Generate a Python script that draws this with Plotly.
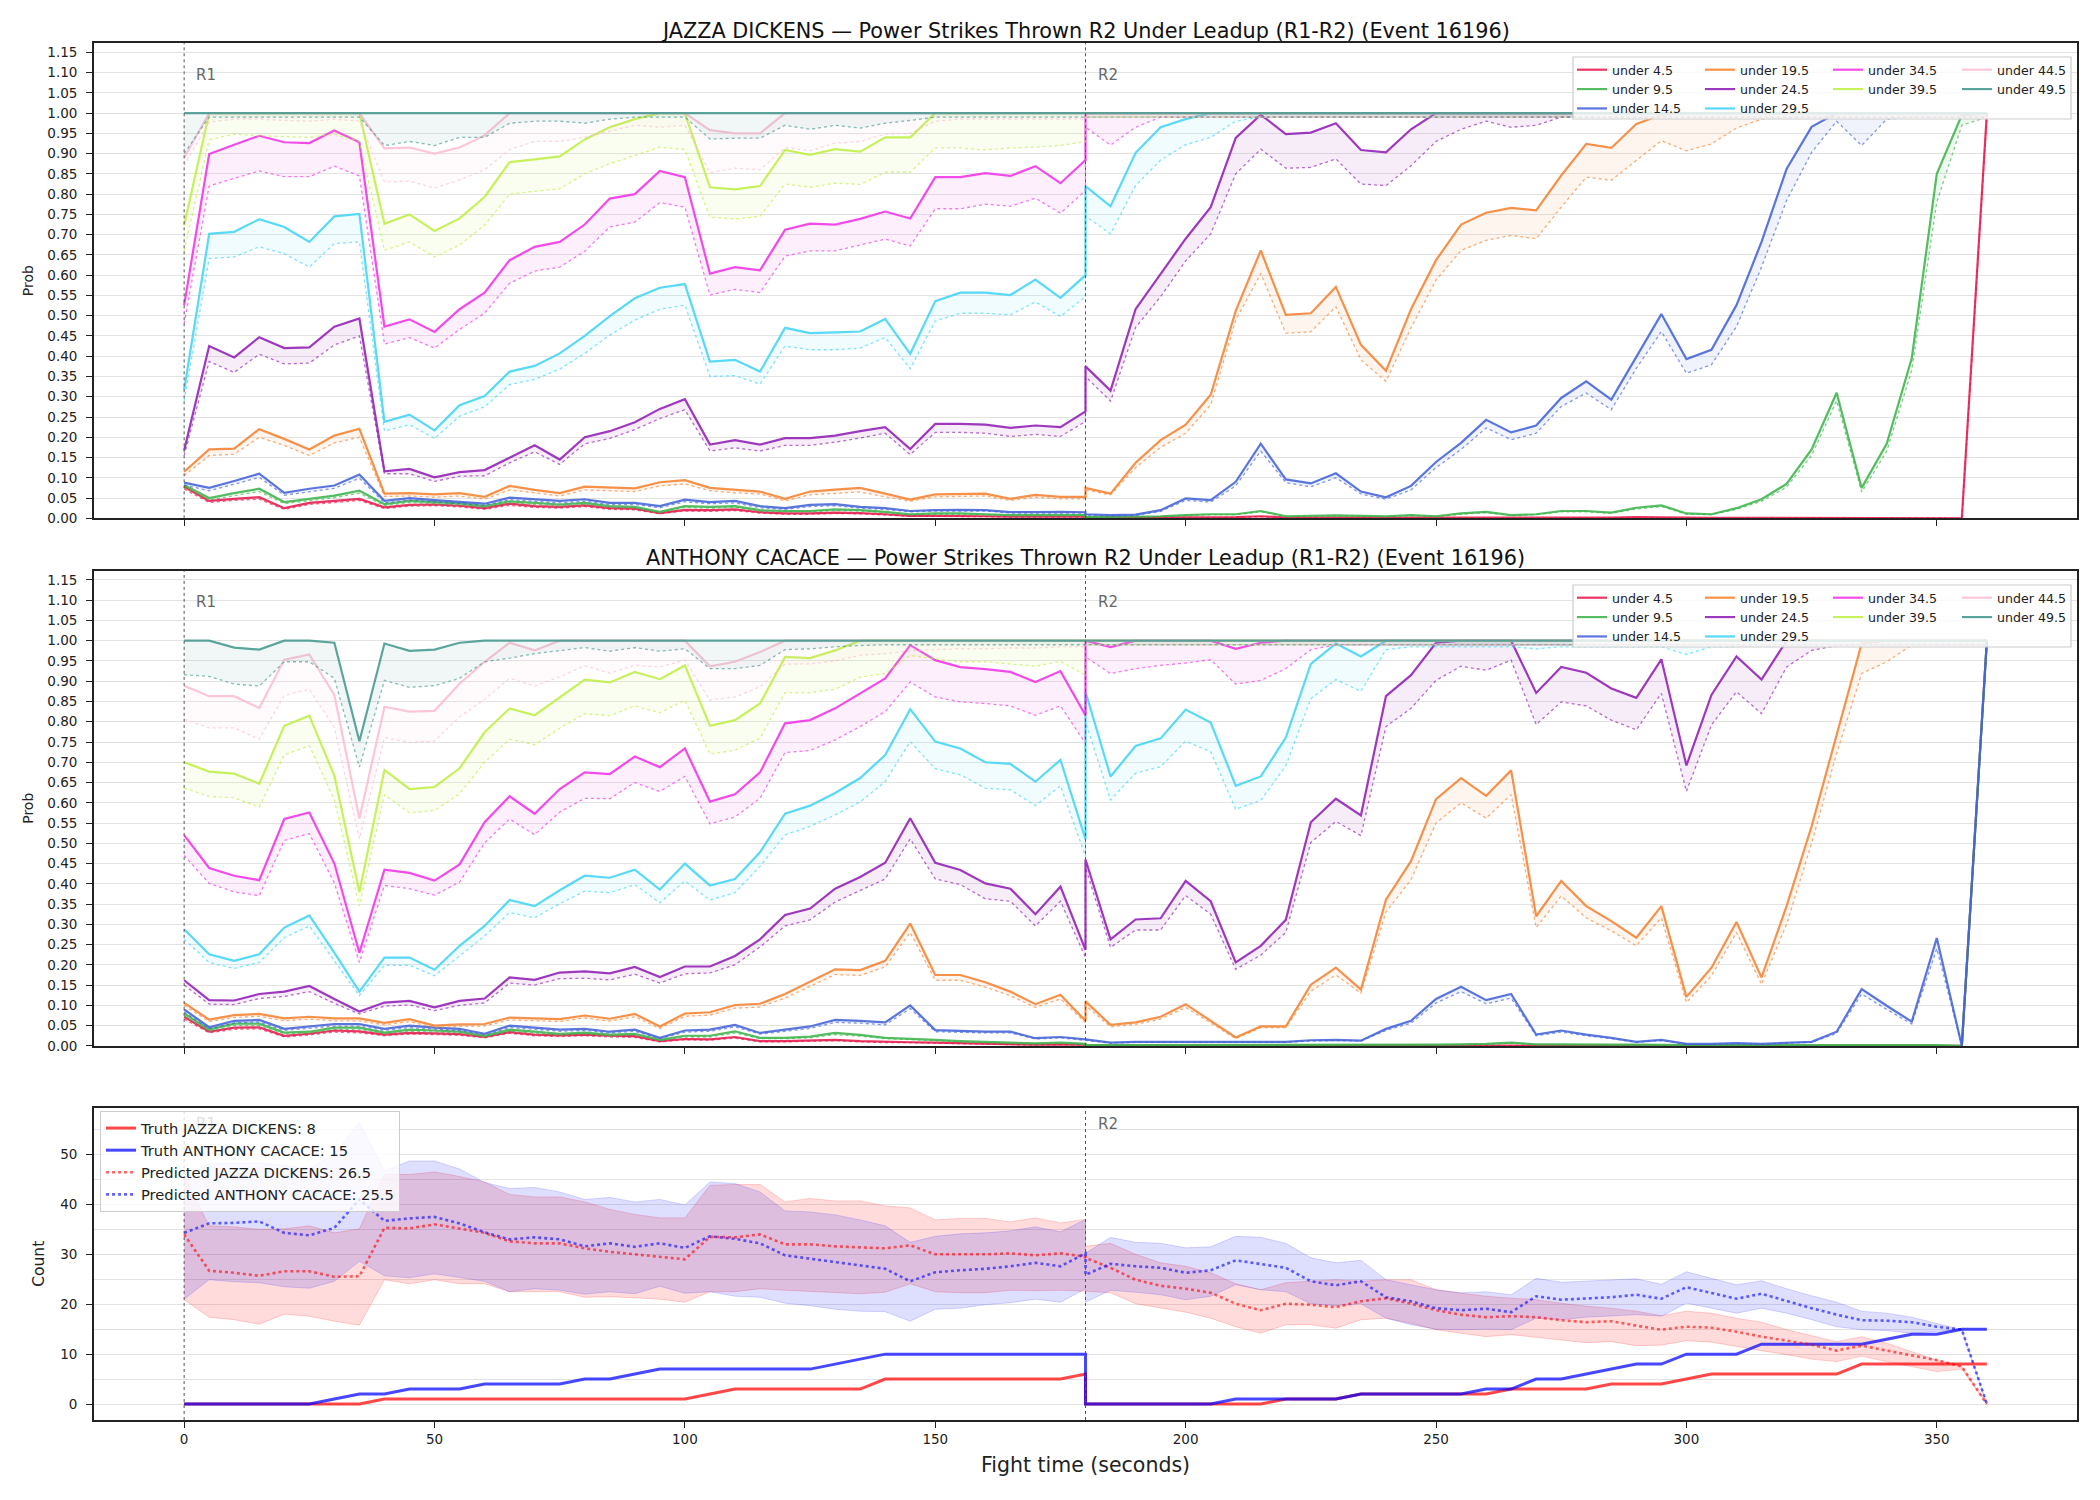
import plotly.graph_objects as go

# ---------------- time grid (R1: 0-180 s, R2: 180-360 s) ----------------
R1_T = list(range(0, 185, 5))
R2_T = list(range(180, 365, 5))
T = R1_T + R2_T

SERIES = ["under 4.5", "under 9.5", "under 14.5", "under 19.5", "under 24.5",
          "under 29.5", "under 34.5", "under 39.5", "under 44.5", "under 49.5"]
COLORS = ["#e6194b", "#3cb44b", "#4363d8", "#f58231", "#911eb4",
          "#42d4f4", "#f032e6", "#bfef45", "#fabed4", "#469990"]

# ================= JAZZA DICKENS (solid = line, _LO = dotted) =================
JD_U4_5 = [0.078, 0.043, 0.048, 0.052, 0.025, 0.038, 0.043, 0.048, 0.027, 0.033, 0.034, 0.031, 0.025, 0.036, 0.030, 0.028, 0.032, 0.025, 0.024, 0.013, 0.021, 0.020, 0.022, 0.015, 0.012, 0.012, 0.014, 0.013, 0.010, 0.006, 0.006, 0.006, 0.005, 0.004, 0.004, 0.004, 0.004] + \
          [0.002, 0.002, 0.002, 0.002, 0.002, 0.003, 0.003, 0.005, 0.002, 0.002, 0.002, 0.002, 0.002, 0.002, 0.001, 0.002, 0.002, 0.002, 0.002, 0.002, 0.002, 0.002, 0.003, 0.002, 0.001, 0.001, 0.001, 0.001, 0.001, 0.001, 0.001, 0.001, 0.001, 0.001, 0.001, 0.000, 1.000]
JD_U4_5_LO = [0.072, 0.039, 0.044, 0.047, 0.022, 0.034, 0.039, 0.044, 0.024, 0.030, 0.031, 0.028, 0.022, 0.032, 0.027, 0.025, 0.029, 0.022, 0.021, 0.011, 0.018, 0.017, 0.019, 0.013, 0.010, 0.010, 0.012, 0.011, 0.008, 0.005, 0.005, 0.005, 0.004, 0.003, 0.003, 0.003, 0.003] + \
             [0.001, 0.001, 0.001, 0.001, 0.001, 0.002, 0.002, 0.004, 0.001, 0.001, 0.001, 0.001, 0.001, 0.001, 0.001, 0.001, 0.001, 0.001, 0.001, 0.001, 0.001, 0.001, 0.002, 0.001, 0.001, 0.001, 0.001, 0.001, 0.001, 0.001, 0.001, 0.001, 0.001, 0.001, 0.001, 0.000, 0.990]
JD_U9_5 = [0.082, 0.050, 0.062, 0.073, 0.040, 0.048, 0.056, 0.068, 0.035, 0.043, 0.040, 0.037, 0.030, 0.042, 0.038, 0.034, 0.038, 0.030, 0.028, 0.016, 0.030, 0.028, 0.030, 0.020, 0.018, 0.018, 0.022, 0.020, 0.016, 0.010, 0.012, 0.012, 0.010, 0.008, 0.008, 0.008, 0.008] + \
          [0.003, 0.004, 0.004, 0.005, 0.008, 0.010, 0.010, 0.018, 0.005, 0.006, 0.007, 0.006, 0.005, 0.008, 0.005, 0.012, 0.016, 0.008, 0.010, 0.018, 0.018, 0.014, 0.026, 0.032, 0.012, 0.010, 0.025, 0.047, 0.085, 0.170, 0.310, 0.075, 0.184, 0.395, 0.850, 0.995, 1.000]
JD_U9_5_LO = [0.076, 0.045, 0.056, 0.066, 0.036, 0.043, 0.051, 0.062, 0.031, 0.039, 0.036, 0.033, 0.027, 0.038, 0.034, 0.030, 0.034, 0.027, 0.025, 0.014, 0.027, 0.025, 0.027, 0.018, 0.016, 0.016, 0.019, 0.018, 0.014, 0.009, 0.010, 0.010, 0.009, 0.007, 0.007, 0.007, 0.007] + \
             [0.003, 0.003, 0.003, 0.004, 0.007, 0.009, 0.009, 0.016, 0.004, 0.005, 0.006, 0.005, 0.004, 0.007, 0.004, 0.010, 0.014, 0.007, 0.009, 0.016, 0.016, 0.012, 0.023, 0.029, 0.010, 0.009, 0.022, 0.042, 0.077, 0.155, 0.290, 0.065, 0.165, 0.365, 0.780, 0.970, 0.990]
JD_U14_5 = [0.088, 0.075, 0.092, 0.110, 0.063, 0.073, 0.081, 0.108, 0.043, 0.050, 0.045, 0.040, 0.036, 0.051, 0.047, 0.043, 0.047, 0.038, 0.038, 0.030, 0.046, 0.040, 0.043, 0.030, 0.025, 0.033, 0.035, 0.028, 0.025, 0.018, 0.020, 0.021, 0.020, 0.015, 0.015, 0.016, 0.015] + \
           [0.010, 0.008, 0.009, 0.020, 0.049, 0.045, 0.090, 0.184, 0.096, 0.086, 0.111, 0.066, 0.052, 0.080, 0.139, 0.186, 0.243, 0.212, 0.229, 0.297, 0.338, 0.293, 0.399, 0.504, 0.393, 0.416, 0.526, 0.682, 0.862, 0.966, 1.000, 1.000, 1.000, 1.000, 1.000, 1.000, 1.000]
JD_U14_5_LO = [0.082, 0.068, 0.084, 0.101, 0.057, 0.066, 0.074, 0.099, 0.038, 0.045, 0.040, 0.036, 0.032, 0.046, 0.042, 0.038, 0.042, 0.034, 0.034, 0.026, 0.041, 0.036, 0.038, 0.026, 0.022, 0.029, 0.031, 0.025, 0.022, 0.016, 0.018, 0.018, 0.018, 0.013, 0.013, 0.014, 0.013] + \
              [0.008, 0.006, 0.007, 0.017, 0.044, 0.040, 0.080, 0.166, 0.088, 0.078, 0.100, 0.060, 0.047, 0.070, 0.125, 0.170, 0.223, 0.194, 0.210, 0.276, 0.309, 0.268, 0.370, 0.461, 0.358, 0.379, 0.473, 0.620, 0.784, 0.903, 0.980, 0.920, 0.985, 0.990, 0.990, 0.990, 0.990]
JD_U19_5 = [0.115, 0.170, 0.172, 0.220, 0.196, 0.170, 0.204, 0.221, 0.061, 0.062, 0.059, 0.062, 0.053, 0.080, 0.070, 0.062, 0.078, 0.076, 0.074, 0.089, 0.094, 0.075, 0.070, 0.066, 0.048, 0.066, 0.071, 0.075, 0.061, 0.046, 0.059, 0.060, 0.061, 0.048, 0.058, 0.053, 0.053] + \
           [0.075, 0.061, 0.137, 0.193, 0.231, 0.305, 0.512, 0.661, 0.502, 0.506, 0.571, 0.428, 0.364, 0.516, 0.637, 0.725, 0.754, 0.766, 0.760, 0.846, 0.924, 0.914, 0.973, 0.996, 1.000, 1.000, 1.000, 1.000, 1.000, 1.000, 1.000, 1.000, 1.000, 1.000, 1.000, 1.000, 1.000]
JD_U19_5_LO = [0.105, 0.155, 0.158, 0.200, 0.180, 0.155, 0.186, 0.200, 0.054, 0.055, 0.052, 0.055, 0.047, 0.070, 0.063, 0.055, 0.070, 0.068, 0.066, 0.080, 0.085, 0.068, 0.063, 0.060, 0.043, 0.058, 0.062, 0.065, 0.053, 0.042, 0.053, 0.054, 0.055, 0.044, 0.052, 0.048, 0.048] + \
              [0.070, 0.058, 0.125, 0.175, 0.210, 0.280, 0.489, 0.604, 0.457, 0.460, 0.522, 0.391, 0.338, 0.470, 0.588, 0.661, 0.686, 0.698, 0.690, 0.768, 0.842, 0.834, 0.883, 0.932, 0.907, 0.924, 0.963, 0.985, 0.990, 0.990, 0.990, 0.990, 0.990, 0.990, 0.990, 0.990, 0.990]
JD_U24_5 = [0.168, 0.425, 0.397, 0.447, 0.420, 0.422, 0.473, 0.493, 0.116, 0.122, 0.101, 0.114, 0.119, 0.149, 0.180, 0.145, 0.200, 0.215, 0.237, 0.270, 0.294, 0.182, 0.193, 0.182, 0.198, 0.198, 0.204, 0.215, 0.225, 0.171, 0.233, 0.233, 0.231, 0.223, 0.229, 0.225, 0.264] + \
           [0.375, 0.315, 0.516, 0.604, 0.690, 0.768, 0.939, 0.996, 0.948, 0.952, 0.975, 0.909, 0.903, 0.960] + [1.000] * 23
JD_U24_5_LO = [0.155, 0.387, 0.360, 0.405, 0.381, 0.383, 0.428, 0.450, 0.110, 0.110, 0.091, 0.104, 0.105, 0.137, 0.164, 0.133, 0.184, 0.197, 0.219, 0.246, 0.268, 0.166, 0.174, 0.166, 0.180, 0.180, 0.188, 0.198, 0.210, 0.157, 0.212, 0.212, 0.210, 0.202, 0.207, 0.202, 0.239] + \
              [0.350, 0.289, 0.471, 0.547, 0.635, 0.702, 0.850, 0.911, 0.864, 0.866, 0.887, 0.825, 0.821, 0.870, 0.930, 0.960, 0.980, 0.965, 0.970] + [0.990] * 18
JD_U29_5 = [0.317, 0.702, 0.707, 0.738, 0.719, 0.682, 0.745, 0.751, 0.238, 0.256, 0.217, 0.279, 0.302, 0.362, 0.376, 0.407, 0.450, 0.499, 0.543, 0.569, 0.578, 0.387, 0.391, 0.362, 0.470, 0.457, 0.459, 0.461, 0.492, 0.406, 0.536, 0.557, 0.557, 0.551, 0.589, 0.544, 0.600] + \
           [0.820, 0.770, 0.902, 0.965, 0.985] + [1.000] * 32
JD_U29_5_LO = [0.290, 0.641, 0.645, 0.670, 0.653, 0.620, 0.678, 0.682, 0.215, 0.231, 0.197, 0.252, 0.275, 0.330, 0.343, 0.368, 0.407, 0.452, 0.489, 0.516, 0.526, 0.350, 0.352, 0.331, 0.425, 0.416, 0.416, 0.420, 0.446, 0.369, 0.487, 0.506, 0.506, 0.502, 0.534, 0.498, 0.547] + \
              [0.746, 0.702, 0.821, 0.884, 0.922, 0.940, 0.980] + [0.990] * 30
JD_U34_5 = [0.526, 0.899, 0.922, 0.944, 0.928, 0.926, 0.957, 0.928, 0.473, 0.491, 0.460, 0.516, 0.557, 0.637, 0.670, 0.682, 0.725, 0.789, 0.800, 0.857, 0.842, 0.604, 0.620, 0.612, 0.712, 0.727, 0.725, 0.739, 0.757, 0.740, 0.842, 0.842, 0.852, 0.845, 0.869, 0.827, 0.884] + \
           [1.000] * 37
JD_U34_5_LO = [0.480, 0.820, 0.839, 0.857, 0.843, 0.843, 0.869, 0.845, 0.430, 0.446, 0.420, 0.466, 0.506, 0.580, 0.610, 0.620, 0.659, 0.719, 0.731, 0.779, 0.768, 0.551, 0.565, 0.557, 0.647, 0.660, 0.660, 0.674, 0.689, 0.672, 0.764, 0.764, 0.775, 0.770, 0.790, 0.753, 0.809] + \
              [0.965, 0.921, 0.965] + [0.990] * 34
JD_U39_5 = [0.723, 1.000, 1.000, 1.000, 1.000, 1.000, 1.000, 1.000, 0.727, 0.750, 0.709, 0.740, 0.793, 0.879, 0.886, 0.893, 0.935, 0.965, 0.985, 1.000, 1.000, 0.817, 0.812, 0.820, 0.909, 0.897, 0.911, 0.905, 0.940, 0.940, 1.000, 1.000, 1.000, 1.000, 1.000, 1.000, 1.000] + \
           [1.000] * 37
JD_U39_5_LO = [0.660, 0.934, 0.948, 0.944, 0.942, 0.940, 0.948, 0.930, 0.661, 0.682, 0.645, 0.674, 0.723, 0.800, 0.807, 0.813, 0.850, 0.875, 0.895, 0.916, 0.910, 0.743, 0.739, 0.745, 0.825, 0.817, 0.827, 0.824, 0.854, 0.854, 0.914, 0.914, 0.909, 0.914, 0.916, 0.920, 0.930] + \
              [0.990] * 37
JD_U44_5 = [0.890, 1.000, 1.000, 1.000, 1.000, 1.000, 1.000, 1.000, 0.913, 0.915, 0.900, 0.915, 0.945, 1.000, 1.000, 1.000, 1.000, 1.000, 1.000, 1.000, 1.000, 0.958, 0.950, 0.950, 1.000, 1.000, 1.000, 1.000, 1.000, 1.000, 1.000, 1.000, 1.000, 1.000, 1.000, 1.000, 1.000] + \
           [1.000] * 37
JD_U44_5_LO = [0.870, 0.978, 0.985, 0.985, 0.982, 0.980, 0.985, 0.980, 0.830, 0.832, 0.815, 0.835, 0.860, 0.910, 0.930, 0.930, 0.940, 0.955, 0.970, 0.965, 0.970, 0.853, 0.864, 0.860, 0.915, 0.907, 0.926, 0.930, 0.948, 0.950, 0.980, 0.985, 0.985, 0.985, 0.985, 0.985, 0.985] + \
              [0.990] * 37
JD_U49_5 = [1.000] * 74
JD_U49_5_LO = [0.900, 0.990, 0.990, 0.990, 0.990, 0.990, 0.990, 0.990, 0.920, 0.930, 0.920, 0.940, 0.940, 0.975, 0.980, 0.980, 0.975, 0.985, 0.990, 0.990, 0.990, 0.936, 0.938, 0.938, 0.970, 0.960, 0.970, 0.963, 0.975, 0.982, 0.990, 0.990, 0.990, 0.990, 0.990, 0.990, 0.990] + \
              [0.990] * 37

# ================= ANTHONY CACACE =================
AC_U4_5 = [0.072, 0.035, 0.045, 0.046, 0.025, 0.030, 0.038, 0.036, 0.028, 0.032, 0.031, 0.029, 0.022, 0.034, 0.028, 0.026, 0.028, 0.025, 0.024, 0.012, 0.017, 0.016, 0.022, 0.012, 0.012, 0.013, 0.015, 0.012, 0.010, 0.009, 0.008, 0.007, 0.005, 0.004, 0.003, 0.004, 0.003] + \
          [0.001] * 35 + [0.000, 1.000]
AC_U4_5_LO = [0.066, 0.032, 0.041, 0.042, 0.022, 0.027, 0.034, 0.032, 0.025, 0.029, 0.028, 0.026, 0.020, 0.031, 0.025, 0.023, 0.025, 0.022, 0.021, 0.010, 0.015, 0.014, 0.019, 0.010, 0.010, 0.011, 0.013, 0.010, 0.008, 0.008, 0.007, 0.006, 0.004, 0.003, 0.002, 0.003, 0.002] + \
             [0.001] * 35 + [0.000, 0.990]
AC_U9_5 = [0.080, 0.040, 0.055, 0.055, 0.033, 0.035, 0.045, 0.045, 0.033, 0.040, 0.038, 0.035, 0.025, 0.040, 0.035, 0.030, 0.033, 0.028, 0.030, 0.015, 0.025, 0.025, 0.036, 0.020, 0.020, 0.023, 0.032, 0.027, 0.020, 0.018, 0.015, 0.012, 0.010, 0.008, 0.006, 0.008, 0.005] + \
          [0.002] * 14 + [0.003, 0.004, 0.005, 0.008, 0.004, 0.004, 0.003, 0.003, 0.003] + [0.002] * 12 + [0.000, 1.000]
AC_U9_5_LO = [0.074, 0.036, 0.050, 0.050, 0.030, 0.032, 0.041, 0.041, 0.030, 0.036, 0.034, 0.032, 0.022, 0.036, 0.032, 0.027, 0.030, 0.025, 0.027, 0.013, 0.022, 0.022, 0.032, 0.018, 0.018, 0.020, 0.028, 0.024, 0.018, 0.016, 0.013, 0.010, 0.009, 0.007, 0.005, 0.007, 0.004] + \
             [0.001] * 14 + [0.002, 0.003, 0.004, 0.007, 0.003, 0.003, 0.002, 0.002, 0.002] + [0.001] * 12 + [0.000, 0.990]
AC_U14_5 = [0.090, 0.046, 0.062, 0.064, 0.042, 0.048, 0.054, 0.054, 0.042, 0.050, 0.045, 0.042, 0.030, 0.050, 0.045, 0.040, 0.042, 0.035, 0.040, 0.020, 0.038, 0.040, 0.052, 0.032, 0.040, 0.048, 0.064, 0.062, 0.058, 0.100, 0.039, 0.037, 0.035, 0.035, 0.019, 0.022, 0.016] + \
           [0.016, 0.008, 0.010, 0.010, 0.010, 0.010, 0.010, 0.010, 0.010, 0.014, 0.015, 0.013, 0.042, 0.062, 0.116, 0.146, 0.113, 0.128, 0.028, 0.038, 0.028, 0.020, 0.010, 0.015, 0.005, 0.005, 0.007, 0.005, 0.007, 0.010, 0.035, 0.140, 0.099, 0.060, 0.266, 0.000, 1.000]
AC_U14_5_LO = [0.084, 0.042, 0.057, 0.059, 0.038, 0.044, 0.049, 0.049, 0.038, 0.045, 0.041, 0.038, 0.027, 0.045, 0.041, 0.036, 0.038, 0.032, 0.036, 0.018, 0.034, 0.036, 0.047, 0.029, 0.036, 0.043, 0.058, 0.056, 0.052, 0.092, 0.035, 0.033, 0.032, 0.032, 0.017, 0.020, 0.014] + \
              [0.014, 0.007, 0.009, 0.009, 0.009, 0.009, 0.009, 0.009, 0.009, 0.012, 0.013, 0.012, 0.038, 0.056, 0.106, 0.134, 0.104, 0.118, 0.025, 0.034, 0.025, 0.018, 0.009, 0.013, 0.004, 0.004, 0.006, 0.004, 0.006, 0.009, 0.031, 0.128, 0.090, 0.054, 0.240, 0.000, 0.990]
AC_U19_5 = [0.106, 0.065, 0.076, 0.079, 0.068, 0.072, 0.068, 0.068, 0.057, 0.066, 0.050, 0.053, 0.054, 0.070, 0.068, 0.066, 0.075, 0.067, 0.079, 0.048, 0.080, 0.083, 0.101, 0.104, 0.128, 0.158, 0.189, 0.187, 0.210, 0.302, 0.175, 0.175, 0.157, 0.134, 0.103, 0.126, 0.062] + \
           [0.110, 0.052, 0.058, 0.072, 0.103, 0.062, 0.021, 0.048, 0.048, 0.151, 0.193, 0.139, 0.361, 0.456, 0.609, 0.661, 0.617, 0.680, 0.320, 0.407, 0.345, 0.308, 0.267, 0.345, 0.121, 0.193, 0.306, 0.169, 0.345, 0.542, 0.771, 0.993, 1.000, 1.000, 1.000, 1.000, 1.000]
AC_U19_5_LO = [0.100, 0.060, 0.070, 0.073, 0.062, 0.066, 0.062, 0.062, 0.052, 0.060, 0.045, 0.048, 0.049, 0.064, 0.062, 0.060, 0.069, 0.061, 0.072, 0.043, 0.073, 0.076, 0.093, 0.096, 0.118, 0.146, 0.176, 0.174, 0.195, 0.280, 0.162, 0.162, 0.145, 0.124, 0.095, 0.116, 0.057] + \
              [0.100, 0.047, 0.053, 0.066, 0.095, 0.056, 0.018, 0.045, 0.045, 0.135, 0.175, 0.130, 0.330, 0.410, 0.550, 0.600, 0.562, 0.620, 0.292, 0.370, 0.316, 0.284, 0.247, 0.316, 0.107, 0.173, 0.280, 0.152, 0.300, 0.500, 0.722, 0.919, 0.948, 0.989, 0.990, 0.990, 0.990]
AC_U24_5 = [0.162, 0.113, 0.112, 0.128, 0.134, 0.148, 0.116, 0.085, 0.107, 0.111, 0.095, 0.111, 0.117, 0.169, 0.163, 0.181, 0.184, 0.179, 0.195, 0.170, 0.196, 0.196, 0.222, 0.263, 0.323, 0.339, 0.388, 0.417, 0.452, 0.562, 0.452, 0.434, 0.401, 0.388, 0.325, 0.393, 0.237] + \
           [0.460, 0.263, 0.312, 0.315, 0.407, 0.357, 0.206, 0.247, 0.311, 0.552, 0.610, 0.569, 0.863, 0.915, 0.995, 1.000, 1.000, 1.000, 0.871, 0.935, 0.921, 0.882, 0.859, 0.954, 0.692, 0.866, 0.961, 0.904] + [1.000] * 9
AC_U24_5_LO = [0.150, 0.103, 0.102, 0.117, 0.122, 0.134, 0.105, 0.079, 0.098, 0.101, 0.087, 0.100, 0.106, 0.155, 0.150, 0.166, 0.167, 0.163, 0.177, 0.155, 0.178, 0.180, 0.200, 0.244, 0.296, 0.311, 0.355, 0.384, 0.412, 0.511, 0.412, 0.398, 0.363, 0.357, 0.296, 0.357, 0.218] + \
              [0.440, 0.243, 0.286, 0.286, 0.371, 0.325, 0.189, 0.224, 0.280, 0.502, 0.554, 0.519, 0.788, 0.833, 0.902, 0.937, 0.927, 0.952, 0.793, 0.849, 0.839, 0.804, 0.780, 0.870, 0.628, 0.792, 0.874, 0.820, 0.935, 0.976, 0.988] + [0.990] * 6
AC_U29_5 = [0.288, 0.226, 0.210, 0.226, 0.292, 0.322, 0.230, 0.134, 0.218, 0.218, 0.188, 0.247, 0.296, 0.360, 0.345, 0.384, 0.420, 0.415, 0.435, 0.386, 0.450, 0.396, 0.412, 0.478, 0.573, 0.593, 0.624, 0.661, 0.718, 0.831, 0.751, 0.734, 0.700, 0.696, 0.652, 0.706, 0.510] + \
           [0.874, 0.665, 0.740, 0.759, 0.830, 0.798, 0.642, 0.665, 0.761, 0.943, 0.993, 0.961] + [1.000] * 25
AC_U29_5_LO = [0.263, 0.206, 0.191, 0.206, 0.267, 0.296, 0.210, 0.124, 0.199, 0.199, 0.173, 0.222, 0.271, 0.329, 0.316, 0.351, 0.382, 0.378, 0.398, 0.353, 0.407, 0.360, 0.378, 0.443, 0.521, 0.542, 0.570, 0.602, 0.652, 0.751, 0.684, 0.669, 0.636, 0.632, 0.593, 0.642, 0.468] + \
              [0.800, 0.607, 0.673, 0.689, 0.752, 0.726, 0.584, 0.606, 0.691, 0.857, 0.904, 0.875, 0.978, 0.985, 0.985, 0.985, 0.985, 0.985, 0.980, 0.985, 0.985, 0.985, 0.985, 0.985, 0.966, 0.985, 0.985] + [0.990] * 10
AC_U34_5 = [0.520, 0.439, 0.420, 0.409, 0.560, 0.576, 0.450, 0.230, 0.435, 0.427, 0.408, 0.448, 0.552, 0.616, 0.573, 0.634, 0.675, 0.671, 0.714, 0.688, 0.734, 0.603, 0.621, 0.675, 0.796, 0.804, 0.833, 0.870, 0.907, 0.989, 0.952, 0.935, 0.930, 0.923, 0.898, 0.925, 0.816] + \
           [1.000, 0.984, 1.000, 1.000, 1.000, 1.000, 0.980, 0.995] + [1.000] * 29
AC_U34_5_LO = [0.470, 0.401, 0.380, 0.371, 0.507, 0.524, 0.402, 0.206, 0.396, 0.388, 0.372, 0.404, 0.501, 0.560, 0.521, 0.577, 0.611, 0.610, 0.650, 0.628, 0.665, 0.548, 0.565, 0.611, 0.724, 0.729, 0.755, 0.788, 0.825, 0.898, 0.861, 0.849, 0.845, 0.839, 0.816, 0.839, 0.747] + \
              [0.960, 0.919, 0.931, 0.939, 0.945, 0.953, 0.893, 0.902, 0.931, 0.978] + [0.990] * 27
AC_U39_5 = [0.700, 0.677, 0.672, 0.647, 0.790, 0.815, 0.667, 0.380, 0.681, 0.634, 0.639, 0.685, 0.774, 0.833, 0.816, 0.860, 0.904, 0.897, 0.923, 0.905, 0.939, 0.790, 0.804, 0.845, 0.960, 0.957, 0.976, 1.000, 1.000, 1.000, 1.000, 1.000, 1.000, 1.000, 1.000, 1.000, 1.000] + \
           [1.000] * 37
AC_U39_5_LO = [0.636, 0.616, 0.612, 0.589, 0.718, 0.741, 0.607, 0.345, 0.620, 0.575, 0.581, 0.622, 0.700, 0.757, 0.743, 0.784, 0.820, 0.815, 0.839, 0.822, 0.853, 0.720, 0.730, 0.759, 0.872, 0.872, 0.880, 0.910, 0.919, 0.964, 0.955, 0.948, 0.948, 0.943, 0.937, 0.949, 0.915] + \
              [0.990] * 37
AC_U44_5 = [0.889, 0.863, 0.863, 0.834, 0.953, 0.966, 0.866, 0.561, 0.837, 0.825, 0.827, 0.894, 0.948, 0.995, 0.976, 1.000, 1.000, 1.000, 1.000, 1.000, 1.000, 0.937, 0.948, 0.972] + [1.000] * 13 + \
           [1.000] * 37
AC_U44_5_LO = [0.806, 0.785, 0.785, 0.757, 0.865, 0.880, 0.785, 0.511, 0.761, 0.749, 0.752, 0.812, 0.855, 0.907, 0.888, 0.911, 0.938, 0.920, 0.939, 0.935, 0.952, 0.853, 0.861, 0.886, 0.942, 0.943, 0.950, 0.964, 0.968, 0.975, 0.978, 0.980, 0.980, 0.982, 0.982, 0.985, 0.985] + \
              [0.990] * 37
AC_U49_5 = [1.000, 1.000, 0.983, 0.978, 1.000, 1.000, 0.995, 0.752, 0.993, 0.975, 0.978, 0.995] + [1.000] * 25 + \
           [1.000] * 37
AC_U49_5_LO = [0.916, 0.912, 0.893, 0.888, 0.948, 0.948, 0.907, 0.688, 0.902, 0.885, 0.889, 0.907, 0.948, 0.957, 0.968, 0.976, 0.983, 0.974, 0.983, 0.974, 0.980, 0.931, 0.931, 0.939, 0.978, 0.980, 0.985, 0.988] + [0.990] * 9 + \
              [0.990] * 37

# ================= COUNT PANEL =================
TRUTH_JD = [0, 0, 0, 0, 0, 0, 0, 0, 1, 1, 1, 1, 1, 1, 1, 1, 1, 1, 1, 1, 1, 2, 3, 3, 3, 3, 3, 3, 5, 5, 5, 5, 5, 5, 5, 5, 6] + \
           [0, 0, 0, 0, 0, 0, 0, 0, 1, 1, 1, 2, 2, 2, 2, 2, 2, 3, 3, 3, 3, 4, 4, 4, 5, 6, 6, 6, 6, 6, 6, 8, 8, 8, 8, 8, 8]
TRUTH_AC = [0, 0, 0, 0, 0, 0, 1, 2, 2, 3, 3, 3, 4, 4, 4, 4, 5, 5, 6, 7, 7, 7, 7, 7, 7, 7, 8, 9, 10, 10, 10, 10, 10, 10, 10, 10, 10] + \
           [0, 0, 0, 0, 0, 0, 1, 1, 1, 1, 1, 2, 2, 2, 2, 2, 3, 3, 5, 5, 6, 7, 8, 8, 10, 10, 10, 12, 12, 12, 12, 12, 13, 14, 14, 15, 15]
PRED_JD = [34.0, 26.7, 26.3, 25.7, 26.6, 26.6, 25.5, 25.6, 35.3, 35.2, 36.0, 35.2, 34.3, 32.6, 32.2, 32.2, 31.2, 30.5, 30.0, 29.5, 29.0, 33.5, 33.4, 34.0, 32.0, 32.0, 31.6, 31.4, 31.2, 31.8, 30.0, 30.0, 30.0, 30.2, 29.8, 30.2, 29.5] + \
          [29.3, 27.3, 24.9, 23.7, 23.1, 22.3, 20.1, 18.8, 20.1, 19.9, 19.4, 20.6, 21.2, 20.1, 18.8, 17.9, 17.4, 17.6, 17.4, 16.8, 16.4, 16.6, 15.7, 14.9, 15.5, 15.3, 14.5, 13.5, 12.7, 11.9, 10.7, 11.7, 10.7, 9.7, 8.8, 7.5, 0.0]
PRED_AC = [34.3, 36.2, 36.3, 36.6, 34.3, 33.8, 35.3, 41.0, 36.7, 37.2, 37.5, 36.2, 34.4, 33.0, 33.4, 33.0, 31.6, 32.2, 31.5, 32.2, 31.3, 33.6, 33.1, 32.2, 29.8, 29.1, 28.4, 27.8, 27.1, 24.6, 26.4, 26.8, 27.1, 27.6, 28.3, 27.6, 30.2] + \
          [25.9, 28.1, 27.6, 27.3, 26.3, 26.8, 28.8, 28.1, 27.3, 24.6, 23.8, 24.6, 21.4, 20.6, 19.2, 18.8, 19.1, 18.4, 21.6, 20.9, 21.1, 21.4, 21.9, 21.1, 23.4, 22.3, 21.1, 22.1, 20.6, 19.2, 17.9, 16.8, 16.7, 16.4, 15.5, 14.9, 0.0]
JD_LO = [20.9, 17.4, 16.9, 16.0, 18.0, 17.6, 16.6, 15.8, 24.9, 24.1, 24.9, 24.1, 24.1, 22.5, 22.5, 22.5, 21.4, 21.5, 21.3, 21.0, 20.4, 22.5, 22.5, 23.1, 22.8, 22.6, 22.3, 22.1, 22.4, 24.1, 22.5, 22.3, 22.3, 22.8, 22.7, 22.8, 22.6] + \
        [22.6, 22.3, 20.1, 19.2, 18.4, 17.2, 15.5, 14.2, 15.9, 15.9, 15.2, 16.9, 17.2, 16.2, 14.9, 14.2, 13.5, 13.9, 13.4, 12.9, 12.3, 12.5, 11.7, 11.8, 12.7, 12.4, 11.5, 10.7, 9.9, 9.0, 8.5, 9.6, 8.5, 7.5, 6.5, 7.0, 0.0]
JD_HI = [45.5, 35.7, 35.5, 35.0, 35.1, 35.7, 34.3, 35.1, 46.0, 46.0, 46.5, 45.6, 44.5, 42.0, 41.5, 41.5, 40.5, 39.0, 38.0, 37.3, 37.3, 43.8, 44.0, 44.0, 40.5, 41.2, 40.7, 40.7, 39.7, 39.3, 36.9, 37.2, 37.2, 36.5, 37.3, 36.3, 37.0] + \
        [31.6, 32.2, 30.0, 28.3, 27.6, 26.3, 24.1, 22.9, 24.3, 24.6, 24.9, 24.6, 24.9, 24.9, 22.9, 22.2, 21.6, 21.2, 20.9, 20.2, 19.6, 19.2, 18.6, 17.7, 18.6, 18.2, 17.2, 16.4, 14.9, 13.7, 12.5, 13.5, 12.2, 10.5, 8.8, 7.5, 0.0]
AC_LO = [21.0, 24.9, 24.5, 24.3, 23.5, 23.2, 24.6, 28.6, 25.7, 25.3, 26.1, 25.3, 24.6, 22.5, 23.1, 22.8, 22.0, 22.5, 22.1, 23.6, 22.2, 22.5, 21.6, 21.4, 20.2, 19.7, 19.0, 18.6, 18.5, 16.6, 19.0, 19.2, 19.9, 20.3, 21.0, 20.4, 23.1] + \
        [20.4, 22.8, 22.4, 21.9, 20.9, 21.6, 23.9, 22.9, 22.5, 20.1, 19.7, 20.1, 17.2, 15.9, 15.0, 14.9, 15.0, 14.9, 17.2, 16.9, 17.4, 17.6, 17.9, 17.6, 20.2, 19.2, 18.2, 19.2, 18.2, 16.9, 15.5, 14.9, 14.7, 14.2, 14.5, 14.9, 0.0]
AC_HI = [46.0, 48.2, 48.2, 48.3, 47.8, 47.2, 50.0, 56.5, 46.7, 48.7, 48.7, 47.1, 44.4, 43.2, 43.4, 42.5, 41.0, 41.4, 40.5, 41.0, 39.9, 44.5, 44.2, 42.5, 38.7, 38.5, 37.9, 36.9, 35.7, 32.4, 33.6, 34.1, 34.3, 34.7, 35.5, 34.5, 37.0] + \
        [30.2, 33.4, 32.4, 32.2, 31.3, 31.5, 33.6, 33.4, 32.2, 29.3, 28.3, 28.8, 24.9, 23.9, 22.9, 22.3, 22.5, 21.9, 25.2, 24.4, 24.6, 24.9, 25.1, 24.0, 26.5, 25.2, 23.9, 24.7, 23.1, 21.7, 20.4, 18.6, 18.2, 17.4, 16.1, 14.9, 0.0]

JD_SOLID = [JD_U4_5, JD_U9_5, JD_U14_5, JD_U19_5, JD_U24_5, JD_U29_5, JD_U34_5, JD_U39_5, JD_U44_5, JD_U49_5]
JD_DOT = [JD_U4_5_LO, JD_U9_5_LO, JD_U14_5_LO, JD_U19_5_LO, JD_U24_5_LO, JD_U29_5_LO, JD_U34_5_LO, JD_U39_5_LO, JD_U44_5_LO, JD_U49_5_LO]
AC_SOLID = [AC_U4_5, AC_U9_5, AC_U14_5, AC_U19_5, AC_U24_5, AC_U29_5, AC_U34_5, AC_U39_5, AC_U44_5, AC_U49_5]
AC_DOT = [AC_U4_5_LO, AC_U9_5_LO, AC_U14_5_LO, AC_U19_5_LO, AC_U24_5_LO, AC_U29_5_LO, AC_U34_5_LO, AC_U39_5_LO, AC_U44_5_LO, AC_U49_5_LO]

# ---------------- layout geometry ----------------
W, H = 2100, 1500
ML, MR, MT, MB = 94, 23, 43, 80
PW, PH = W - ML - MR, H - MT - MB


def px(x):
    return (x - ML) / PW


def py(y):
    return 1 - (y - MT) / PH


def rgba(hx, a):
    hx = hx.lstrip("#")
    r, g, b = int(hx[0:2], 16), int(hx[2:4], 16), int(hx[4:6], 16)
    return f"rgba({r},{g},{b},{a})"


FONT = "DejaVu Sans"
COLUMN_OF = [0, 0, 0, 1, 1, 1, 2, 2, 3, 3]
TOP_LEG = ["legend", "legend2", "legend3", "legend4"]
MID_LEG = ["legend5", "legend6", "legend7", "legend8"]

fig = go.Figure()


def add_panel(solids, dots, xa, ya, legs):
    for i in range(10):
        c = COLORS[i]
        fig.add_trace(go.Scatter(
            x=T, y=solids[i], mode="lines", name=SERIES[i],
            line=dict(color=rgba(c, 0.88), width=2.2),
            xaxis=xa, yaxis=ya, legend=legs[COLUMN_OF[i]], legendrank=i + 1, showlegend=True,
            hoverinfo="skip"))
        fig.add_trace(go.Scatter(
            x=T, y=dots[i], mode="lines", name=SERIES[i] + " (pred)",
            line=dict(color=rgba(c, 0.65), width=1.3, dash="dot"),
            fill="tonexty", fillcolor=rgba(c, 0.08),
            xaxis=xa, yaxis=ya, showlegend=False, hoverinfo="skip"))


add_panel(JD_SOLID, JD_DOT, "x", "y", TOP_LEG)
add_panel(AC_SOLID, AC_DOT, "x2", "y2", MID_LEG)

# bands
fig.add_trace(go.Scatter(x=T, y=JD_LO, mode="lines", line=dict(color="rgba(255,0,0,0.18)", width=1),
                         xaxis="x3", yaxis="y3", showlegend=False, hoverinfo="skip"))
fig.add_trace(go.Scatter(x=T, y=JD_HI, mode="lines", line=dict(color="rgba(255,0,0,0.18)", width=1),
                         fill="tonexty", fillcolor="rgba(255,0,0,0.14)",
                         xaxis="x3", yaxis="y3", showlegend=False, hoverinfo="skip"))
fig.add_trace(go.Scatter(x=T, y=AC_LO, mode="lines", line=dict(color="rgba(0,0,255,0.15)", width=1),
                         xaxis="x3", yaxis="y3", showlegend=False, hoverinfo="skip"))
fig.add_trace(go.Scatter(x=T, y=AC_HI, mode="lines", line=dict(color="rgba(0,0,255,0.15)", width=1),
                         fill="tonexty", fillcolor="rgba(0,0,255,0.13)",
                         xaxis="x3", yaxis="y3", showlegend=False, hoverinfo="skip"))
fig.add_trace(go.Scatter(x=T, y=TRUTH_JD, mode="lines", name="Truth JAZZA DICKENS: 8",
                         line=dict(color="rgba(255,0,0,0.72)", width=3),
                         xaxis="x3", yaxis="y3", legend="legend9", legendrank=1, hoverinfo="skip"))
fig.add_trace(go.Scatter(x=T, y=TRUTH_AC, mode="lines", name="Truth ANTHONY CACACE: 15",
                         line=dict(color="rgba(0,0,255,0.72)", width=3),
                         xaxis="x3", yaxis="y3", legend="legend9", legendrank=2, hoverinfo="skip"))
fig.add_trace(go.Scatter(x=T, y=PRED_JD, mode="lines", name="Predicted JAZZA DICKENS: 26.5",
                         line=dict(color="rgba(255,0,0,0.6)", width=2.6, dash="dot"),
                         xaxis="x3", yaxis="y3", legend="legend9", legendrank=3, hoverinfo="skip"))
fig.add_trace(go.Scatter(x=T, y=PRED_AC, mode="lines", name="Predicted ANTHONY CACACE: 25.5",
                         line=dict(color="rgba(0,0,255,0.6)", width=2.6, dash="dot"),
                         xaxis="x3", yaxis="y3", legend="legend9", legendrank=4, hoverinfo="skip"))

# ---------------- axes ----------------
XR = [-18, 378]
axis_common = dict(showline=True, linecolor="#222", linewidth=1.8, mirror=True,
                   ticks="outside", ticklen=6, tickwidth=1.4, tickcolor="#222",
                   tickfont=dict(family=FONT, size=13.5, color="#222"), zeroline=False)

D_TOP = [py(518.3), 1.0]
D_MID = [py(1045.9), py(570.6)]
D_BOT = [0.0, py(1107.6)]

fig.update_layout(
    xaxis=dict(domain=[0, 1], range=XR, anchor="y", tick0=0, dtick=50, showticklabels=False,
               showgrid=False, **axis_common),
    yaxis=dict(domain=D_TOP, range=[0, 1.173], anchor="x", tick0=0, dtick=0.05, tickformat=".2f",
               showgrid=True, gridcolor="#e3e3e3", gridwidth=1, ticklabelstandoff=6,
               title=dict(text="Prob", font=dict(family=FONT, size=14, color="#222"), standoff=10),
               **axis_common),
    xaxis2=dict(domain=[0, 1], range=XR, anchor="y2", tick0=0, dtick=50, showticklabels=False,
                showgrid=False, **axis_common),
    yaxis2=dict(domain=D_MID, range=[0, 1.173], anchor="x2", tick0=0, dtick=0.05, tickformat=".2f",
                showgrid=True, gridcolor="#e3e3e3", gridwidth=1, ticklabelstandoff=6,
                title=dict(text="Prob", font=dict(family=FONT, size=14, color="#222"), standoff=10),
                **axis_common),
    xaxis3=dict(domain=[0, 1], range=XR, anchor="y3", tick0=0, dtick=50, showticklabels=True,
                showgrid=False,
                title=dict(text="Fight time (seconds)", font=dict(family=FONT, size=20.5, color="#222"),
                           standoff=12),
                **axis_common),
    yaxis3=dict(domain=D_BOT, range=[-3.2, 59.4], anchor="x3", tick0=0, dtick=10,
                showgrid=True, gridcolor="#e3e3e3", gridwidth=1, ticklabelstandoff=6,
                minor=dict(dtick=5, tick0=0, showgrid=True, gridcolor="#e3e3e3", gridwidth=1, ticks=""),
                title=dict(text="Count", font=dict(family=FONT, size=15.5, color="#222"), standoff=12),
                **axis_common),
)

# ---------------- legends ----------------
COL_X = [1572, 1700, 1828, 1957]
leg_common = dict(bgcolor="rgba(0,0,0,0)", borderwidth=0, orientation="v", traceorder="normal",
                  font=dict(family=FONT, size=12.6, color="#222"), tracegroupgap=0,
                  itemwidth=30, xanchor="left", yanchor="top")
for k in range(4):
    fig.update_layout({TOP_LEG[k]: dict(x=px(COL_X[k]), y=py(55), **leg_common),
                       MID_LEG[k]: dict(x=px(COL_X[k]), y=py(583), **leg_common)})
fig.update_layout(legend9=dict(x=px(100), y=py(1111), xanchor="left", yanchor="top",
                               bgcolor="rgba(255,255,255,0.8)", bordercolor="#cccccc", borderwidth=1,
                               font=dict(family=FONT, size=14.7, color="#222"), tracegroupgap=0,
                               itemwidth=30, traceorder="normal"))

shapes = []
# round boundaries
for xa, ya in [("x", "y"), ("x2", "y2"), ("x3", "y3")]:
    for xv in (0, 180):
        shapes.append(dict(type="line", xref=xa, yref=ya + " domain", x0=xv, x1=xv, y0=0, y1=1,
                           line=dict(color="#555", width=1, dash="dot"), layer="above"))
# legend frames for the probability panels
for y0, y1 in [(57, 119), (585, 647)]:
    shapes.append(dict(type="rect", xref="paper", yref="paper", x0=px(1573), x1=px(2071),
                       y0=py(y1), y1=py(y0), fillcolor="rgba(255,255,255,0.8)",
                       line=dict(color="#cccccc", width=1.2), layer="above"))
fig.update_layout(shapes=shapes)

ann = []
TITLE_TXT = "{} — Power Strikes Thrown R2 Under Leadup (R1-R2) (Event 16196)"
ann.append(dict(text=TITLE_TXT.format("JAZZA DICKENS"), xref="paper", yref="paper",
                x=0.5, y=py(31), xanchor="center", yanchor="middle", showarrow=False,
                font=dict(family=FONT, size=20.8, color="#111")))
ann.append(dict(text=TITLE_TXT.format("ANTHONY CACACE"), xref="paper", yref="paper",
                x=0.5, y=py(558), xanchor="center", yanchor="middle", showarrow=False,
                font=dict(family=FONT, size=20.8, color="#111")))
for xa, ya, yv in [("x", "y", 1.095), ("x2", "y2", 1.095), ("x3", "y3", 56.2)]:
    for lbl, xv in (("R1", 2), ("R2", 182)):
        # the count-panel R1 label sits behind the semi-opaque legend box in the original
        col = "rgba(102,102,102,0.22)" if (ya == "y3" and lbl == "R1") else "#666"
        ann.append(dict(text=lbl, xref=xa, yref=ya, x=xv, y=yv, xanchor="left", yanchor="middle",
                        showarrow=False, font=dict(family=FONT, size=15, color=col)))
fig.update_layout(annotations=ann)

fig.update_layout(width=W, height=H, margin=dict(l=ML, r=MR, t=MT, b=MB),
                  paper_bgcolor="white", plot_bgcolor="white",
                  font=dict(family=FONT, color="#222"), hovermode=False)

fig.write_html("out.html")
